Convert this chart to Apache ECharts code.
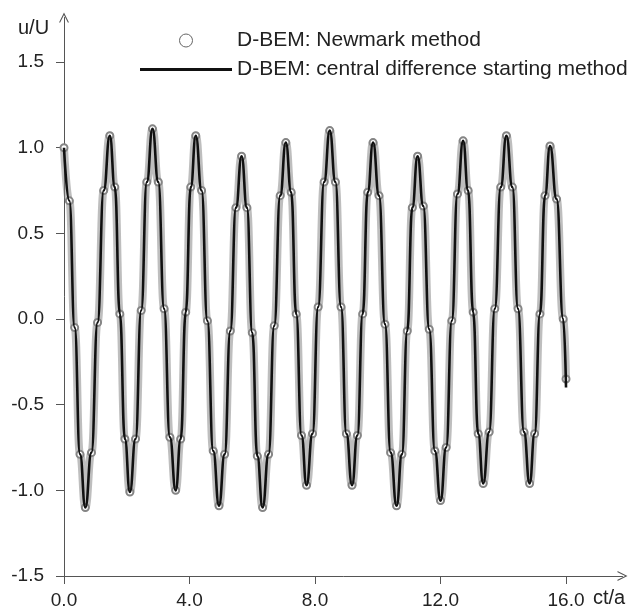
<!DOCTYPE html>
<html>
<head>
<meta charset="utf-8">
<script src="https://cdn.jsdelivr.net/npm/echarts@6/dist/echarts.min.js"></script>
<style>
html,body{margin:0;padding:0;background:#fff;}
#chart{width:630px;height:611px;}
</style>
</head>
<body>
<div id="chart"></div>
<script>
// time values ct/a (shared by both series)
const tValues = [
  0.00, 0.17, 0.34, 0.51,
  0.68, 0.875, 1.07, 1.265,
  1.46, 1.62, 1.78, 1.94,
  2.10, 2.28, 2.46, 2.64,
  2.82, 3.005, 3.19, 3.375,
  3.56, 3.72, 3.88, 4.04,
  4.20, 4.385, 4.57, 4.755,
  4.94, 5.12, 5.30, 5.48,
  5.66, 5.83, 6.00, 6.16,
  6.33, 6.52, 6.70, 6.89,
  7.07, 7.24, 7.40, 7.57,
  7.73, 7.92, 8.10, 8.29,
  8.47, 8.65, 8.83, 9.00,
  9.18, 9.35, 9.52, 9.68,
  9.85, 10.04, 10.23, 10.41,
  10.60, 10.77, 10.94, 11.10,
  11.27, 11.45, 11.64, 11.82,
  12.00, 12.18, 12.36, 12.54,
  12.72, 12.88, 13.04, 13.20,
  13.36, 13.55, 13.73, 13.92,
  14.10, 14.29, 14.47, 14.66,
  14.84, 15.00, 15.17, 15.33,
  15.49, 15.70, 15.91, 16.00
];
// u/U, central difference starting method (line)
const centralDiff = [
  1.00, 0.69, -0.05, -0.79,
  -1.10, -0.78, -0.02, 0.75,
  1.07, 0.77, 0.03, -0.70,
  -1.01, -0.70, 0.05, 0.80,
  1.11, 0.80, 0.06, -0.69,
  -1.00, -0.70, 0.04, 0.77,
  1.07, 0.75, -0.01, -0.77,
  -1.09, -0.79, -0.07, 0.65,
  0.95, 0.65, -0.08, -0.80,
  -1.10, -0.79, -0.04, 0.72,
  1.03, 0.74, 0.03, -0.68,
  -0.97, -0.67, 0.07, 0.80,
  1.10, 0.80, 0.07, -0.67,
  -0.97, -0.68, 0.03, 0.74,
  1.03, 0.72, -0.03, -0.78,
  -1.09, -0.79, -0.07, 0.65,
  0.95, 0.66, -0.06, -0.77,
  -1.06, -0.75, -0.01, 0.73,
  1.04, 0.75, 0.04, -0.67,
  -0.96, -0.66, 0.06, 0.77,
  1.07, 0.77, 0.06, -0.66,
  -0.96, -0.67, 0.03, 0.72,
  1.01, 0.70, 0.00, -0.40
];
// u/U, Newmark method (circles)
const newmark = [
  1.00, 0.69, -0.05, -0.79,
  -1.10, -0.78, -0.02, 0.75,
  1.07, 0.77, 0.03, -0.70,
  -1.01, -0.70, 0.05, 0.80,
  1.11, 0.80, 0.06, -0.69,
  -1.00, -0.70, 0.04, 0.77,
  1.07, 0.75, -0.01, -0.77,
  -1.09, -0.79, -0.07, 0.65,
  0.95, 0.65, -0.08, -0.80,
  -1.10, -0.79, -0.04, 0.72,
  1.03, 0.74, 0.03, -0.68,
  -0.97, -0.67, 0.07, 0.80,
  1.10, 0.80, 0.07, -0.67,
  -0.97, -0.68, 0.03, 0.74,
  1.03, 0.72, -0.03, -0.78,
  -1.09, -0.79, -0.07, 0.65,
  0.95, 0.66, -0.06, -0.77,
  -1.06, -0.75, -0.01, 0.73,
  1.04, 0.75, 0.04, -0.67,
  -0.96, -0.66, 0.06, 0.77,
  1.07, 0.77, 0.06, -0.66,
  -0.96, -0.67, 0.03, 0.72,
  1.01, 0.70, 0.00, -0.35
];
const xTicks = [0, 4, 8, 12, 16];
const yTicks = [-1.5, -1.0, -0.5, 0.0, 0.5, 1.0, 1.5];
const seriesNames = ['D-BEM: Newmark method', 'D-BEM: central difference starting method'];
const axisNames = ['ct/a', 'u/U'];

const chevron = 'path://M0,10 L5,0 L10,10 L8.8,10 L5,2.4 L1.2,10 Z';
const lineIcon = 'path://M0,0 L92,0 L92,3 L0,3 Z';
const FONT = '"Liberation Sans", Arial, sans-serif';
const axisColor = '#555';

const chart = echarts.init(document.getElementById('chart'), null, {renderer: 'canvas'});
chart.setOption({
  animation: false,
  backgroundColor: '#fff',
  grid: {left: 64, right: 7.5, top: 17.5, bottom: 35},
  xAxis: {
    type: 'value', min: 0, max: 17.8, interval: 4,
    axisLine: {onZero: false, lineStyle: {color: axisColor, width: 1}, symbol: ['none', chevron], symbolSize: [11, 10]},
    axisTick: {length: 8, lineStyle: {color: axisColor}, customValues: xTicks},
    axisLabel: {customValues: xTicks, formatter: v => v.toFixed(1), fontSize: 19, color: '#222', margin: 15, fontFamily: FONT},
    splitLine: {show: false}
  },
  yAxis: {
    type: 'value', min: -1.5, max: 1.76, interval: 0.5,
    axisLine: {onZero: false, lineStyle: {color: axisColor, width: 1}, symbol: ['none', chevron], symbolSize: [11, 10]},
    axisTick: {length: 8, lineStyle: {color: axisColor}, customValues: yTicks},
    axisLabel: {customValues: yTicks, formatter: v => v.toFixed(1), fontSize: 19, color: '#222', margin: 20, fontFamily: FONT},
    splitLine: {show: false}
  },
  legend: {
    orient: 'vertical', left: 135, top: 25, itemWidth: 92, itemHeight: 13, itemGap: 8,
    symbolKeepAspect: true,
    textStyle: {fontSize: 21, color: '#222', fontFamily: FONT},
    data: [
      {name: seriesNames[0], icon: 'circle', itemStyle: {color: '#fff', borderColor: '#666', borderWidth: 1}},
      {name: seriesNames[1], icon: lineIcon, itemStyle: {color: '#111'}}
    ]
  },
  graphic: [
    {type: 'text', left: 18, top: 18, style: {text: axisNames[1], font: '20px ' + FONT, fill: '#222'}},
    {type: 'text', left: 593, top: 588, style: {text: axisNames[0], font: '20px ' + FONT, fill: '#222'}}
  ],
  series: [
    {
      name: seriesNames[0], type: 'line', smooth: true, smoothMonotone: 'x',
      data: tValues.map((t, i) => [t, newmark[i]]),
      symbol: 'emptyCircle', symbolSize: 7, showSymbol: true, showAllSymbol: true,
      itemStyle: {color: '#858585', borderWidth: 1},
      lineStyle: {color: 'rgba(125,125,125,0.5)', width: 8},
      z: 2
    },
    {
      name: seriesNames[1], type: 'line', smooth: true, smoothMonotone: 'x',
      data: tValues.map((t, i) => [t, centralDiff[i]]),
      symbol: 'none',
      lineStyle: {color: '#111', width: 2.6},
      itemStyle: {color: '#111'},
      z: 3
    }
  ]
});
</script>
</body>
</html>
